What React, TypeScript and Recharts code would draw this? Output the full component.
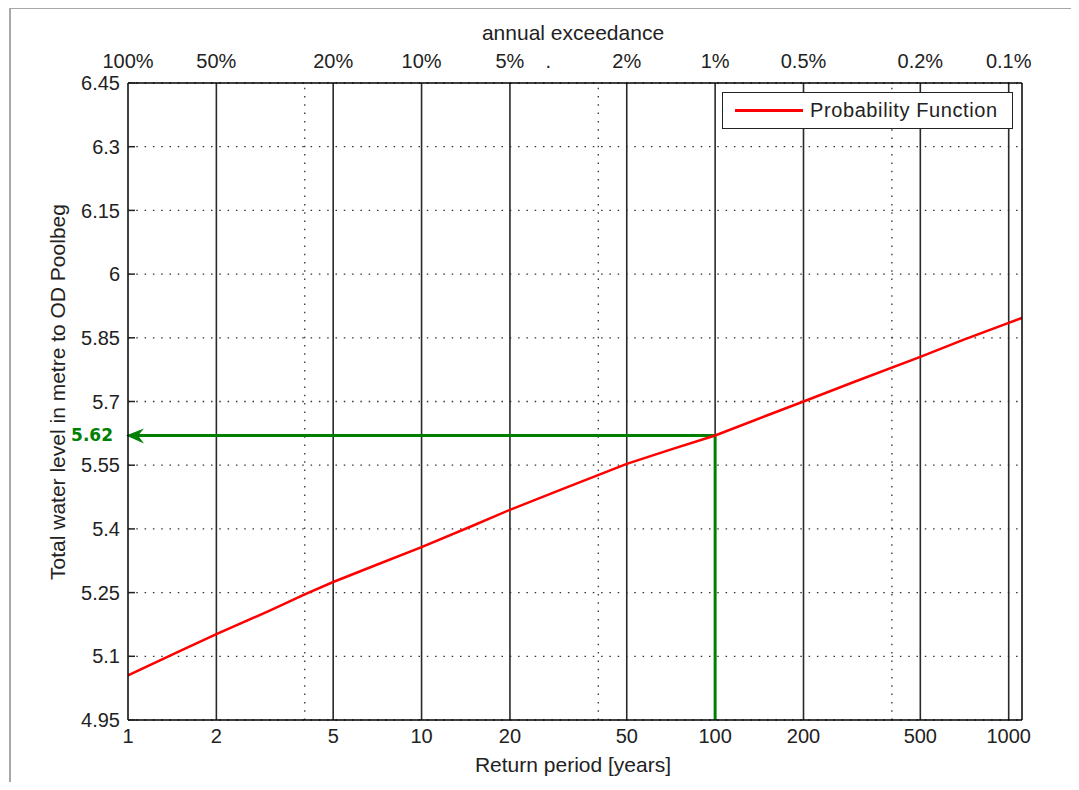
import React from 'react'
import { LineChart, Line, XAxis, YAxis, CartesianGrid, ReferenceLine, Legend } from 'recharts'

// return period [years] and total water level [m OD Poolbeg]
const returnPeriods = [1, 1.5, 2, 3, 4, 5, 7, 10, 15, 20, 30, 50, 70, 100, 150, 200, 300, 500, 700, 1000, 1110]
const waterLevels = [5.055, 5.112, 5.152, 5.206, 5.246, 5.275, 5.315, 5.357, 5.408, 5.445, 5.493, 5.553, 5.586, 5.62, 5.667, 5.7, 5.747, 5.805, 5.845, 5.885, 5.897]

const xTicks = [1, 2, 5, 10, 20, 50, 100, 200, 500, 1000]
const exceedanceTicks = [1, 2, 5, 10, 20, 27, 50, 100, 200, 500, 1000]
const exceedanceLabels = ['100%', '50%', '20%', '10%', '5%', '.', '2%', '1%', '0.5%', '0.2%', '0.1%']
const majorLines = [2, 5, 10, 20, 50, 100, 200, 500, 1000]
const minorLines = [4, 40, 400]
const yTicks = [4.95, 5.1, 5.25, 5.4, 5.55, 5.7, 5.85, 6, 6.15, 6.3, 6.45]

const designPeriod = 100
const designLevel = 5.62

const chartData = returnPeriods.map((t, i) => ({ T: t, level: waterLevels[i] }))

const FONT = "'Liberation Sans', Arial, sans-serif"
const GREEN = '#008000'
const DOTS = '1.5 6.8'

const GreenArrow = (props: any) => {
  const { x1, y1, x2 } = props
  const left = Math.min(x1, x2)
  const right = Math.max(x1, x2)
  return (
    <g>
      <line x1={left + 8} y1={y1} x2={right} y2={y1} stroke={GREEN} strokeWidth={3} />
      <polygon
        points={`${left - 2},${y1} ${left + 16},${y1 - 7} ${left + 10},${y1} ${left + 16},${y1 + 8}`}
        fill={GREEN}
      />
      <text
        x={left - 15}
        y={y1}
        textAnchor="end"
        dominantBaseline="central"
        fill={GREEN}
        fontFamily="'DejaVu Sans', Verdana, sans-serif"
        fontWeight="bold"
        fontSize={17}
      >
        {designLevel.toFixed(2)}
      </text>
    </g>
  )
}

const renderLegend = () => (
  <div
    style={{
      boxSizing: 'border-box',
      width: 291,
      height: 37,
      border: '1.5px solid #222',
      background: '#fff',
      display: 'flex',
      alignItems: 'center',
      fontFamily: FONT,
      fontSize: 20,
      letterSpacing: 0.6,
      color: '#222',
    }}
  >
    <div style={{ width: 68, height: 3, background: '#ff0000', marginLeft: 12, marginRight: 7 }} />
    <span>Probability Function</span>
  </div>
)

export default function App() {
  return (
    <div style={{ position: 'relative', width: 1063, height: 774, background: '#fff' }}>
      <div style={{ position: 'absolute', left: 1, top: -1, width: 1070, height: 2, background: '#a8a8a8' }} />
      <div style={{ position: 'absolute', left: 1, top: -1, width: 2, height: 790, background: '#a8a8a8' }} />

      <div style={{ position: 'absolute', left: -8, top: -8 }}>
        <LineChart
          width={1079}
          height={790}
          data={chartData}
          margin={{ top: 53, right: 56, bottom: 40, left: 68 }}
        >
          <CartesianGrid vertical={false} stroke="#333" strokeDasharray={DOTS} strokeWidth={1.3} />

          <XAxis
            dataKey="T"
            type="number"
            scale="log"
            domain={[1, 1110]}
            allowDataOverflow
            ticks={xTicks}
            interval={0}
            height={30}
            tickSize={0}
            tickMargin={9}
            tickLine={false}
            axisLine={{ stroke: '#000', strokeWidth: 1.5 }}
            tick={{ fill: '#222', fontSize: 20, fontFamily: FONT }}
          />
          <XAxis
            xAxisId="top"
            orientation="top"
            dataKey="T"
            type="number"
            scale="log"
            domain={[1, 1110]}
            allowDataOverflow
            ticks={exceedanceTicks}
            interval={0}
            height={30}
            tickSize={0}
            tickMargin={15}
            tickLine={false}
            tickFormatter={(v: number) => exceedanceLabels[exceedanceTicks.indexOf(v)] ?? ''}
            axisLine={{ stroke: '#000', strokeWidth: 1.5 }}
            tick={{ fill: '#222', fontSize: 20, fontFamily: FONT }}
          />
          <YAxis
            type="number"
            domain={[4.95, 6.45]}
            ticks={yTicks}
            interval={0}
            width={60}
            tickSize={-7}
            tickMargin={15}
            tickLine={{ stroke: '#222', strokeWidth: 1.5 }}
            axisLine={{ stroke: '#000', strokeWidth: 1.5 }}
            tick={{ fill: '#222', fontSize: 20, fontFamily: FONT }}
          />
          <YAxis
            yAxisId="right"
            orientation="right"
            type="number"
            domain={[4.95, 6.45]}
            ticks={yTicks}
            interval={0}
            width={1}
            tickSize={-7}
            tickFormatter={() => ''}
            tickLine={{ stroke: '#222', strokeWidth: 1.5 }}
            axisLine={{ stroke: '#000', strokeWidth: 1.5 }}
          />

          {minorLines.map((v) => (
            <ReferenceLine key={'m' + v} x={v} stroke="#333" strokeWidth={1.3} strokeDasharray={DOTS} />
          ))}
          {majorLines.map((v) => (
            <ReferenceLine key={'M' + v} x={v} stroke="#2a2a2a" strokeWidth={1.6} />
          ))}

          <ReferenceLine
            segment={[{ x: designPeriod, y: 4.95 }, { x: designPeriod, y: designLevel }]}
            stroke={GREEN}
            strokeWidth={3}
          />
          <ReferenceLine
            segment={[{ x: 1, y: designLevel }, { x: designPeriod, y: designLevel }]}
            shape={GreenArrow}
          />

          <Line
            type="linear"
            dataKey="level"
            name="Probability Function"
            stroke="#ff0000"
            strokeWidth={2.5}
            dot={false}
            isAnimationActive={false}
          />

          <Legend
            layout="vertical"
            align="center"
            verticalAlign="middle"
            content={renderLegend}
            wrapperStyle={{ top: 92, left: 722, width: 291, height: 37 }}
          />
        </LineChart>

        <div
          style={{
            position: 'absolute',
            left: 573,
            top: 33,
            transform: 'translate(-50%, -50%)',
            fontFamily: FONT,
            fontSize: 21,
            color: '#222',
            whiteSpace: 'nowrap',
          }}
        >
          annual exceedance
        </div>
        <div
          style={{
            position: 'absolute',
            left: 573,
            top: 765,
            transform: 'translate(-50%, -50%)',
            fontFamily: FONT,
            fontSize: 21,
            color: '#222',
            whiteSpace: 'nowrap',
          }}
        >
          Return period [years]
        </div>
        <div
          style={{
            position: 'absolute',
            left: 58,
            top: 392,
            transform: 'translate(-50%, -50%) rotate(-90deg)',
            fontFamily: FONT,
            fontSize: 21,
            color: '#222',
            whiteSpace: 'nowrap',
          }}
        >
          Total water level in metre to OD Poolbeg
        </div>
      </div>
    </div>
  )
}
